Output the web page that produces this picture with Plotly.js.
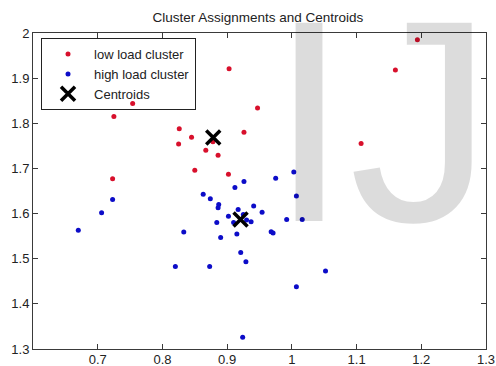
<!DOCTYPE html>
<html>
<head>
<meta charset="utf-8">
<script src="https://cdn.plot.ly/plotly-3.0.1.min.js"></script>
<style>
  html, body { margin: 0; padding: 0; background: #ffffff; }
  #chart { width: 496px; height: 366px; }
</style>
</head>
<body>
<div id="chart"></div>
<script>
// ---- data ----
const lowX  = [0.903, 0.754, 0.725, 0.826, 0.825, 0.845, 0.878, 0.867, 0.886, 0.926, 0.850, 0.902, 0.723, 1.194, 1.160, 0.947, 1.107];
const lowY  = [1.921, 1.844, 1.815, 1.788, 1.754, 1.769, 1.759, 1.740, 1.729, 1.780, 1.696, 1.687, 1.677, 1.985, 1.918, 1.834, 1.755];

const highX = [0.670, 0.706, 0.723, 0.820, 0.873, 0.833, 0.863, 0.874, 0.887, 0.886, 0.884, 0.890,
               0.902, 0.912, 0.926, 0.917, 0.915, 0.921, 0.929, 0.924, 0.910, 0.975, 0.941, 0.954,
               0.925, 0.937, 0.930, 0.968, 0.971, 1.003, 1.007, 0.992, 1.016, 1.007, 1.052];
const highY = [1.563, 1.602, 1.631, 1.483, 1.483, 1.559, 1.643, 1.633, 1.620, 1.613, 1.580, 1.547,
               1.594, 1.658, 1.671, 1.609, 1.555, 1.514, 1.493, 1.326, 1.580, 1.678, 1.617, 1.603,
               1.598, 1.582, 1.586, 1.560, 1.557, 1.692, 1.639, 1.587, 1.587, 1.438, 1.473];

const centX = [0.8785, 0.9207];
const centY = [1.7686, 1.587];

const seriesNames = ["low load cluster", "high load cluster", "Centroids"];
const chartTitle = "Cluster Assignments and Centroids";

const xTicks = [0.7, 0.8, 0.9, 1.0, 1.1, 1.2, 1.3];
const xTickText = ["0.7", "0.8", "0.9", "1", "1.1", "1.2", "1.3"];
const yTicks = [1.3, 1.4, 1.5, 1.6, 1.7, 1.8, 1.9, 2.0];
const yTickText = ["1.3", "1.4", "1.5", "1.6", "1.7", "1.8", "1.9", "2"];

// ---- styling ----
const FONT = "Liberation Sans, Arial, sans-serif";
const RED = "#d8102c";
const BLUE = "#0c0cc8";
const AXIS = "#3a3a3a";

const traces = [
  { type: "scatter", mode: "markers", name: seriesNames[0], x: lowX, y: lowY,
    marker: { symbol: "circle", size: 5, color: RED } },
  { type: "scatter", mode: "markers", name: seriesNames[1], x: highX, y: highY,
    marker: { symbol: "circle", size: 5, color: BLUE } },
  { type: "scatter", mode: "markers", name: seriesNames[2], x: centX, y: centY,
    marker: { symbol: "x-thin-open", size: 14, color: "#000000", line: { width: 3.5, color: "#000000" } } }
];

const axisCommon = {
  showgrid: false, zeroline: false, showline: true, linecolor: AXIS, linewidth: 1,
  mirror: "ticks", ticks: "inside", ticklen: 5, tickcolor: AXIS, tickwidth: 1,
  tickfont: { family: FONT, size: 13, color: "#222222" }, tickmode: "array"
};

const layout = {
  width: 496, height: 366,
  margin: { l: 33, r: 10, t: 33, b: 17, pad: 0 },
  paper_bgcolor: "#ffffff", plot_bgcolor: "#ffffff",
  showlegend: true,
  title: { text: chartTitle, font: { family: FONT, size: 13.5, color: "#222222" },
           x: 0.52, xanchor: "center", y: 0.952, yanchor: "middle" },
  xaxis: Object.assign({}, axisCommon, { range: [0.6, 1.3], tickvals: xTicks, ticktext: xTickText,
                                         ticklabelstandoff: -2 }),
  yaxis: Object.assign({}, axisCommon, { range: [1.3, 2.0], tickvals: yTicks, ticktext: yTickText }),
  legend: {
    x: 0.0177, y: 0.984, xanchor: "left", yanchor: "top",
    bgcolor: "rgba(255,255,255,0)", bordercolor: "#222222", borderwidth: 1,
    font: { family: FONT, size: 13, color: "#222222" },
    itemwidth: 42,
    tracegroupgap: 0
  },
  annotations: [
    { text: "IJ", xref: "paper", yref: "paper", x: 0.516, y: 0.205,
      xanchor: "left", yanchor: "bottom", showarrow: false,
      height: 272, valign: "bottom",
      font: { family: FONT, size: 288, color: "rgba(0,0,0,0.137)" } }
  ]
};

Plotly.newPlot("chart", traces, layout, { displayModeBar: false, staticPlot: true });
</script>
</body>
</html>
